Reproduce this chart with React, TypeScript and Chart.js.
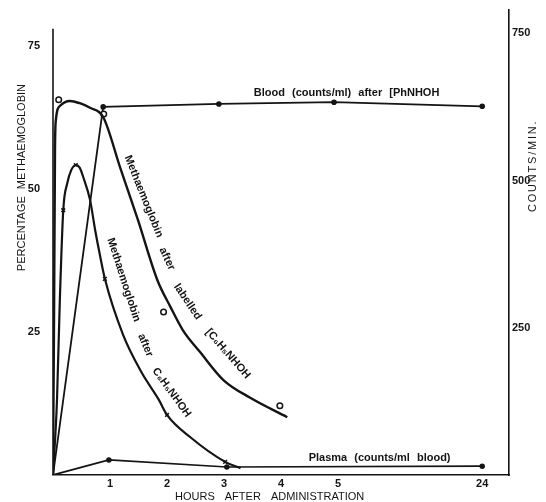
import { useEffect, useRef } from "react";
import { Chart, registerables } from "chart.js";

Chart.register(...registerables);

const INK = "#141414";
const FONT = "Liberation Sans";

// Hours after administration (24 h sits on a broken axis after 5 h)
const hourTicks = [1, 2, 3, 4, 5, 24];
const brokenAxis24 = 7.53;
const toAxis = (h: number) => (h <= 5 ? h : brokenAxis24);

// Percentage methaemoglobin after labelled [C6H5]NHOH (drawn curve + observed circles)
const labelledCurveHours = [0, 0.02, 0.035, 0.05, 0.12, 0.3, 0.47, 0.65, 0.88, 1.18, 1.49, 1.83, 2.06, 2.28, 2.58, 2.99, 3.46, 4.11];
const labelledCurvePct = [0, 30.6, 56.8, 62, 64.5, 65.4, 65.0, 64.2, 62.6, 53.7, 44.6, 34.1, 29.4, 25.3, 21.5, 16.6, 13.5, 10.1];
const labelledObsHours = [0.1, 0.89, 1.94, 3.98];
const labelledObsPct = [65.6, 63.1, 28.5, 12.1];

// Percentage methaemoglobin after C6H5NHOH (drawn curve + observed crosses)
const plainCurveHours = [0, 0.07, 0.12, 0.18, 0.25, 0.32, 0.4, 0.47, 0.53, 0.65, 0.74, 0.83, 0.91, 1.23, 1.55, 1.86, 2.0, 2.41, 3.02, 3.29];
const plainCurvePct = [0, 13.1, 30.6, 46.3, 51.0, 53.3, 54.2, 53.7, 52.1, 48.1, 42.8, 38.1, 34.3, 24.5, 18.0, 13.1, 10.5, 6.6, 2.3, 1.2];
const plainObsHours = [0.18, 0.4, 0.91, 2.0, 3.02];
const plainObsPct = [46.3, 54.2, 34.3, 10.5, 2.3];

// Counts/min
const bloodHours = [0, 0.88, 2.91, 4.93, 24];
const bloodCounts = [0, 625, 630, 633, 626];
const plasmaHours = [0, 0.98, 3.05, 24];
const plasmaCounts = [0, 25.5, 13.6, 15];

// Axis ticks
const pctTicks = [25, 50, 75];
const countTicks = [250, 500, 750];

// Text written along the curves (anchored in data units)
const pctLabels = [
  { text: "Methaemoglobin", hour: 1.59, value: 48.7, angle: 68 },
  { text: "after", hour: 2.0, value: 37.8, angle: 65 },
  { text: "labelled", hour: 2.36, value: 30.3, angle: 56 },
  { text: "[C\u2086H\u2085NHOH", hour: 3.07, value: 21.2, angle: 49 },
  { text: "Methaemoglobin", hour: 1.24, value: 34.1, angle: 72 },
  { text: "after", hour: 1.62, value: 22.7, angle: 67 },
  { text: "C\u2086H\u2085NHOH", hour: 2.08, value: 14.4, angle: 54 },
];
const countLabels = [
  { text: "Blood (counts/ml) after [PhNHOH", hour: 5.15, value: 648, angle: 0 },
  { text: "Plasma (counts/ml blood)", hour: 5.73, value: 29, angle: 0 },
];

const pts = (hs: number[], vs: number[]) => hs.map((h, i) => ({ x: toAxis(h), y: vs[i] }));

const annotate = {
  id: "annotate",
  beforeDatasetsDraw(chart: any) {
    const { ctx, chartArea, scales } = chart;
    ctx.save();
    ctx.strokeStyle = INK;
    ctx.lineWidth = 1.6;
    ctx.beginPath();
    ctx.moveTo(chartArea.left, scales.yL.getPixelForValue(78));
    ctx.lineTo(chartArea.left, chartArea.bottom);
    ctx.stroke();
    ctx.restore();
  },
  afterDatasetsDraw(chart: any) {
    const { ctx, chartArea, scales } = chart;
    const x = scales.x;
    ctx.save();
    ctx.fillStyle = INK;
    ctx.textAlign = "center";
    ctx.textBaseline = "middle";
    const draw = (t: string, px: number, py: number, ang: number) => {
      ctx.save();
      ctx.translate(px, py);
      ctx.rotate((ang * Math.PI) / 180);
      ctx.fillText(t, 0, 0);
      ctx.restore();
    };
    ctx.font = `bold 11px "${FONT}"`;
    (ctx as any).wordSpacing = "4px";
    pctLabels.forEach((l) => draw(l.text, x.getPixelForValue(l.hour), scales.yL.getPixelForValue(l.value), l.angle));
    countLabels.forEach((l) => draw(l.text, x.getPixelForValue(l.hour), scales.yR.getPixelForValue(l.value), l.angle));

    ctx.font = `11px "${FONT}"`;
    (ctx as any).wordSpacing = "7px";
    draw("HOURS AFTER ADMINISTRATION", x.getPixelForValue(3.8), chartArea.bottom + 22, 0);
    (ctx as any).wordSpacing = "4px";
    draw("PERCENTAGE METHAEMOGLOBIN", chartArea.left - 31, scales.yL.getPixelForValue(52), -90);
    (ctx as any).wordSpacing = "0px";
    (ctx as any).letterSpacing = "1.8px";
    draw("COUNTS/MIN.", chartArea.right + 24, scales.yR.getPixelForValue(525), -90);
    ctx.restore();
  },
};

export default function App() {
  const ref = useRef<HTMLCanvasElement | null>(null);

  useEffect(() => {
    if (!ref.current) return;
    const tickFont = { family: FONT, size: 11, weight: "bold" as const };
    const fixV = (w: number) => (s: any) => {
      s.width = w;
      s.paddingTop = 0;
      s.paddingBottom = 0;
    };
    const chart = new Chart(ref.current, {
      type: "line",
      data: {
        datasets: [
          {
            data: pts(labelledCurveHours, labelledCurvePct),
            yAxisID: "yL",
            borderColor: INK,
            borderWidth: 2.4,
            pointRadius: 0,
            tension: 0.4,
            cubicInterpolationMode: "monotone",
          },
          {
            data: pts(labelledObsHours, labelledObsPct),
            yAxisID: "yL",
            showLine: false,
            pointStyle: "circle",
            pointRadius: 2.8,
            pointBorderWidth: 1.5,
            pointBorderColor: INK,
            pointBackgroundColor: "#fff",
          },
          {
            data: pts(plainCurveHours, plainCurvePct),
            yAxisID: "yL",
            borderColor: INK,
            borderWidth: 2.2,
            pointRadius: 0,
            tension: 0.4,
            cubicInterpolationMode: "monotone",
          },
          {
            data: pts(plainObsHours, plainObsPct),
            yAxisID: "yL",
            showLine: false,
            pointStyle: "crossRot",
            pointRadius: 2.6,
            pointBorderWidth: 1.5,
            pointBorderColor: INK,
          },
          {
            data: pts(bloodHours, bloodCounts),
            yAxisID: "yR",
            borderColor: INK,
            borderWidth: 1.8,
            tension: 0,
            pointRadius: bloodHours.map((h) => (h === 0 ? 0 : 1.9)),
            pointBackgroundColor: INK,
            pointBorderColor: INK,
          },
          {
            data: pts(plasmaHours, plasmaCounts),
            yAxisID: "yR",
            borderColor: INK,
            borderWidth: 1.7,
            tension: 0,
            pointRadius: plasmaHours.map((h) => (h === 0 ? 0 : 1.9)),
            pointBackgroundColor: INK,
            pointBorderColor: INK,
          },
        ],
      },
      options: {
        animation: false,
        responsive: true,
        maintainAspectRatio: false,
        layout: { padding: { top: 10, left: 0, right: 0, bottom: 0 } },
        plugins: { legend: { display: false }, tooltip: { enabled: false } },
        scales: {
          x: {
            type: "linear",
            min: 0,
            max: 8.0,
            grid: { display: false, drawTicks: false },
            border: { display: true, color: INK, width: 1.6 },
            afterBuildTicks: (s: any) => {
              s.ticks = hourTicks.map((h) => ({ value: toAxis(h) }));
            },
            ticks: {
              autoSkip: false,
              maxRotation: 0,
              padding: 2,
              color: INK,
              font: tickFont,
              callback: (_v: any, i: number) => String(hourTicks[i]),
            },
            afterFit: (s: any) => {
              s.height = 27;
              s.paddingLeft = 0;
              s.paddingRight = 0;
            },
          },
          yL: {
            type: "linear",
            position: "left",
            min: 0,
            max: 81.3,
            grid: { display: false, drawTicks: false },
            border: { display: false },
            afterBuildTicks: (s: any) => {
              s.ticks = pctTicks.map((v) => ({ value: v }));
            },
            ticks: { padding: 13, color: INK, font: tickFont },
            afterFit: fixV(53),
          },
          yR: {
            type: "linear",
            position: "right",
            min: 0,
            max: 789.5,
            grid: { display: false, drawTicks: false },
            border: { display: true, color: INK, width: 1.6 },
            afterBuildTicks: (s: any) => {
              s.ticks = countTicks.map((v) => ({ value: v }));
            },
            ticks: { padding: 3, color: INK, font: tickFont },
            afterFit: fixV(37),
          },
        },
      },
      plugins: [annotate],
    });
    return () => chart.destroy();
  }, []);

  return (
    <div style={{ position: "fixed", left: 0, top: 0, width: 546, height: 502, background: "#fff" }}>
      <canvas ref={ref} />
    </div>
  );
}
